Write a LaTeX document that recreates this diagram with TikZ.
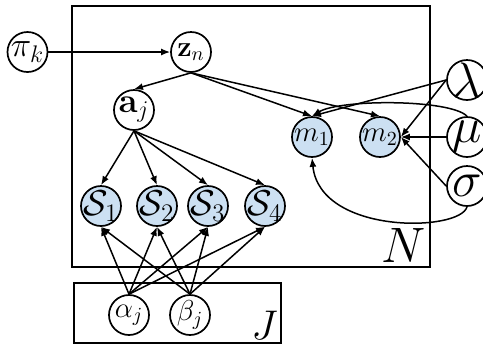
\documentclass[tikz,border=0pt]{standalone}
\usepackage{fix-cm}
\usepackage{amsmath}
\usetikzlibrary{arrows.meta}
\definecolor{obsblue}{RGB}{204,224,242}
\begin{document}
\begin{tikzpicture}[x=0.5pt,y=-0.5pt,
  latentnode/.style={circle,draw,line width=0.85pt,minimum size=20pt,inner sep=0pt,fill=white,
    label={[inner sep=0pt]center:#1}},
  obsnode/.style={latentnode={#1},fill=obsblue},
  edge/.style={-{Latex[length=4.5pt,width=3.5pt]},line width=0.75pt},
  plate/.style={draw,line width=0.75pt}]
\useasboundingbox (0,0) rectangle (483,345);
\draw[plate] (72,6) rectangle (430,267);
\draw[plate] (74,283) rectangle (281,343);
\node[anchor=south east,inner sep=2pt] (Nlab) at (430,267) {\Huge $N$};
\node[anchor=south east,inner sep=1.5pt] (Jlab) at (281,343) {\huge $J$};

\node[latentnode={\LARGE$\pi_k$}] (pi) at (27.5,52) {};
\node[latentnode={\Large$\mathbf{z}_n$}] (z) at (191,52) {};
\node[latentnode={\LARGE$\mathbf{a}_j$}] (a) at (134,110) {};
\node[obsnode={\Large$m_1$}] (m1) at (312,137) {};
\node[obsnode={\Large$m_2$}] (m2) at (380,137) {};
\node[latentnode={\Huge$\lambda$}] (lam) at (467,80) {};
\node[latentnode={\Huge$\mu$}] (mu) at (467,137) {};
\node[latentnode={\Huge$\sigma$}] (sig) at (467,186) {};
\node[obsnode={\fontsize{18}{20}\selectfont$\mathcal{S}_1$}] (S1) at (101,206) {};
\node[obsnode={\fontsize{18}{20}\selectfont$\mathcal{S}_2$}] (S2) at (157,206) {};
\node[obsnode={\fontsize{18}{20}\selectfont$\mathcal{S}_3$}] (S3) at (208,206) {};
\node[obsnode={\fontsize{18}{20}\selectfont$\mathcal{S}_4$}] (S4) at (265,206) {};
\node[latentnode={\Large$\alpha_j$}] (al) at (129,315) {};
\node[latentnode={\Large$\beta_j$}] (be) at (190,315) {};

\draw[edge] (pi.east) -- (z.west);
\draw[edge] (z.south) -- (a.north);
\draw[edge] (z.south) -- (m1.north);
\draw[edge] (z.south) -- (m2.north);
\foreach \s in {S1,S2,S3,S4}{
  \draw[edge] (a.south) -- (\s.north);
  \draw[edge] (al.north) -- (\s.south);
  \draw[edge] (be.north) -- (\s.south);
}
\draw[edge] (lam.west) -- (m1.north);
\draw[edge] (lam.west) -- (m2.east);
\draw[edge] (mu.west) -- (m2.east);
\draw[edge] (sig.west) -- (m2.east);
\draw[edge] (mu.north) .. controls (450,99) and (340,99) .. (m1.north);
\draw[edge] (sig.south) .. controls (460,232) and (320,235) .. (m1.south);
\end{tikzpicture}
\end{document}
